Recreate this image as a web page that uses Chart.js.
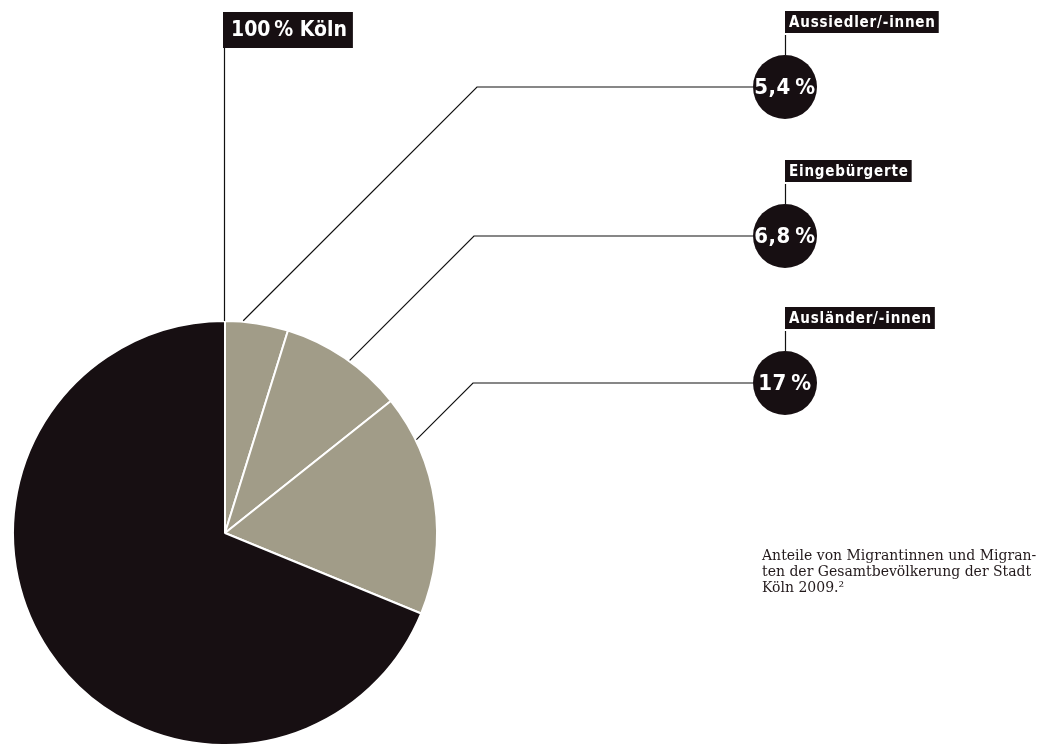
<!DOCTYPE html>
<html>
<head>
<meta charset="utf-8">
<script src="https://cdn.jsdelivr.net/npm/chart.js@4/dist/chart.umd.min.js"></script>
<style>
  html, body { margin: 0; padding: 0; background: #fff; overflow: hidden; }
  #wrap { position: relative; width: 1045px; height: 744px; }
</style>
</head>
<body>
<div id="wrap"><canvas id="torte" width="1045" height="744"></canvas></div>
<script>
// Daten (Anteile)
var kategorien = ['Aussiedler/-innen', 'Eingebürgerte', 'Ausländer/-innen', 'Übrige'];
var anteile = [4.8, 9.5, 16.9, 68.8];
var wertLabels = ['5,4\u2009%', '6,8\u2009%', '17\u2009%'];
var gesamtLabel = '100\u2009% Köln';
var quelle = ['Anteile von Migrantinnen und Migran-', 'ten der Gesamtbevölkerung der Stadt', 'Köln 2009.²'];

var dunkel = '#170f12';
var grau = '#a19c88';
var schrift = '"DejaVu Sans", "Roboto", sans-serif';

// Position der Beschriftungen (y der Kreise, x des Knicks)
var labelY = [87, 236, 383];
var knickX = [477, 474, 473];
var kreisX = 785;
var kreisR = 32;

function setFont(ctx, size, spacing) {
    ctx.font = 'bold ' + size + 'px ' + schrift;
    if ('fontStretch' in ctx) ctx.fontStretch = 'condensed';
    if ('letterSpacing' in ctx) ctx.letterSpacing = (spacing || 0) + 'px';
}

function box(ctx, text, x, yTop, h, size, padL, padR, spacing) {
    setFont(ctx, size, spacing);
    var w = ctx.measureText(text).width + padL + padR;
    ctx.fillStyle = dunkel;
    ctx.fillRect(x, yTop, w, h);
    ctx.fillStyle = '#fff';
    ctx.textBaseline = 'middle';
    ctx.textAlign = 'left';
    ctx.fillText(text, x + padL, yTop + h / 2 + 1);
}

var beschriftung = {
    id: 'beschriftung',
    afterDraw: function(chart) {
        var ctx = chart.ctx;
        var arc = chart.getDatasetMeta(0).data[0];
        var cx = arc.x, cy = arc.y, R = arc.outerRadius + 1;
        ctx.save();
        ctx.strokeStyle = '#111';
        ctx.lineWidth = 1.2;

        // 100 % Köln
        ctx.beginPath();
        ctx.moveTo(cx - 0.5, 47);
        ctx.lineTo(cx - 0.5, cy - R + 1);
        ctx.stroke();
        box(ctx, gesamtLabel, cx - 2, 12, 36, 21, 8, 6, 0);

        for (var i = 0; i < wertLabels.length; i++) {
            var ly = labelY[i], kx = knickX[i];
            // Schnittpunkt der 45°-Linie mit dem Kreisrand
            var dx = kx - cx, dy = ly - cy;
            var b = dy - dx;
            var c = dx * dx + dy * dy - R * R;
            var t = (-b - Math.sqrt(b * b - 2 * c)) / 2;
            ctx.beginPath();
            ctx.moveTo(kreisX - kreisR, ly);
            ctx.lineTo(kx, ly);
            ctx.lineTo(kx - t, ly + t);
            ctx.stroke();

            // Kategorie-Kasten und senkrechter Strich
            ctx.beginPath();
            ctx.moveTo(kreisX + 0.5, ly - 75 + 23);
            ctx.lineTo(kreisX + 0.5, ly - kreisR);
            ctx.stroke();
            box(ctx, kategorien[i], kreisX, ly - 76, 22, 15, 4, 3, 0.8);

            // Wertkreis
            ctx.fillStyle = dunkel;
            ctx.beginPath();
            ctx.arc(kreisX, ly, kreisR, 0, Math.PI * 2);
            ctx.fill();
            ctx.fillStyle = '#fff';
            setFont(ctx, 22, 0.5);
            ctx.textAlign = 'center';
            ctx.textBaseline = 'middle';
            ctx.fillText(wertLabels[i], kreisX, ly + 1);
        }

        // Quelle
        ctx.fillStyle = '#231a1c';
        ctx.font = '14px "DejaVu Serif", "Liberation Serif", serif';
        if ('fontStretch' in ctx) ctx.fontStretch = 'normal';
        if ('letterSpacing' in ctx) ctx.letterSpacing = '0px';
        ctx.textAlign = 'left';
        ctx.textBaseline = 'alphabetic';
        for (var j = 0; j < quelle.length; j++) {
            ctx.fillText(quelle[j], 762, 560 + j * 16);
        }
        ctx.restore();
    }
};

var ctx = document.getElementById('torte').getContext('2d');
var chart = new Chart(ctx, {
    type: 'pie',
    data: {
        labels: kategorien,
        datasets: [{
            data: anteile,
            backgroundColor: [grau, grau, grau, dunkel],
            borderColor: '#fff',
            borderWidth: 2,
            radius: 212
        }]
    },
    options: {
        responsive: false,
        animation: false,
        layout: { padding: { left: 14, right: 609, top: 322, bottom: 0 } },
        plugins: {
            legend: { display: false },
            tooltip: { enabled: false }
        }
    },
    plugins: [beschriftung]
});
</script>
</body>
</html>
